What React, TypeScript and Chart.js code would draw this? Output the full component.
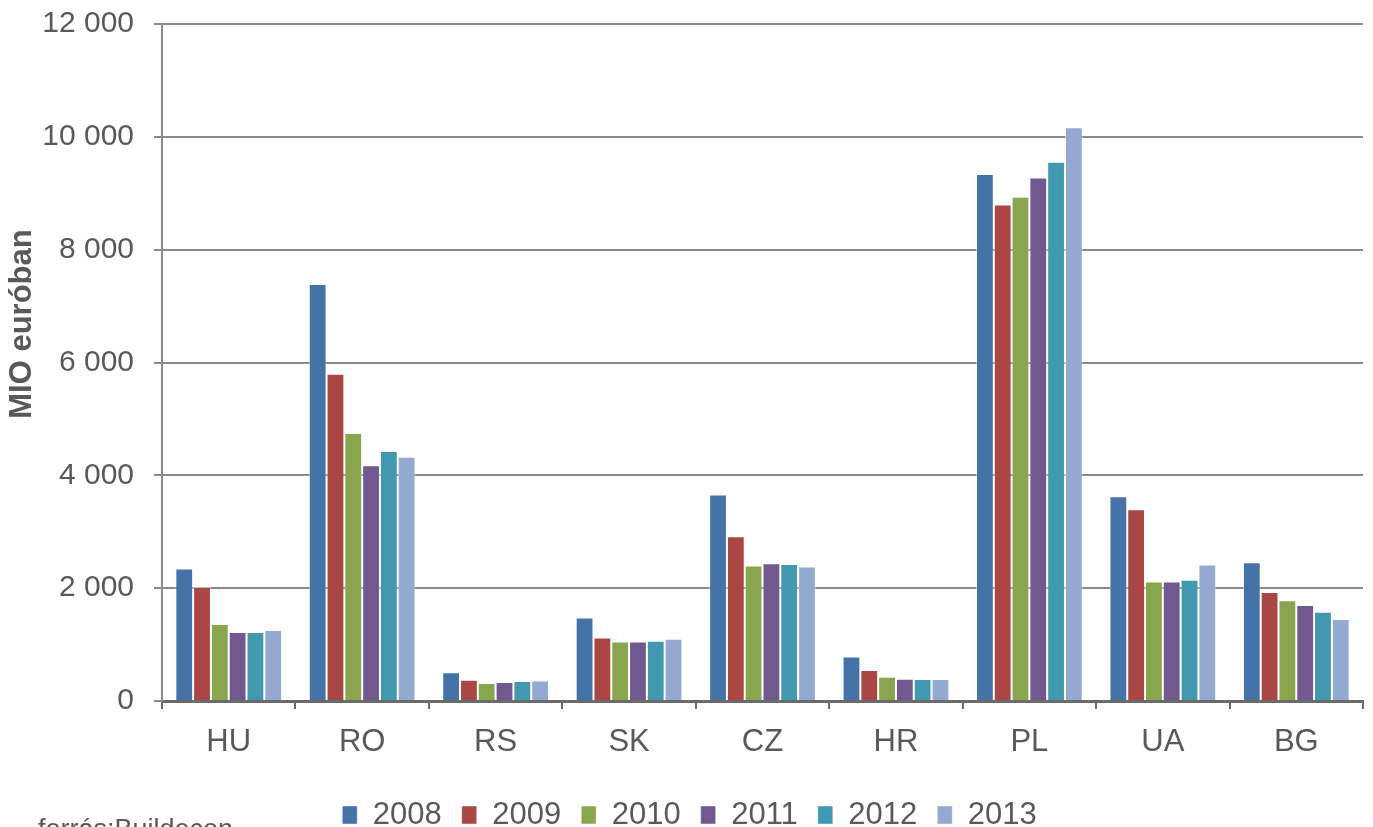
import React, { useEffect, useRef } from "react";
import { Chart, registerables } from "chart.js";

Chart.register(...registerables);

const categories = ["HU", "RO", "RS", "SK", "CZ", "HR", "PL", "UA", "BG"];
const years = ["2008", "2009", "2010", "2011", "2012", "2013"];
const values2008 = [2350, 7390, 510, 1480, 3660, 790, 9340, 3630, 2460];
const values2009 = [2020, 5800, 375, 1125, 2920, 550, 8800, 3400, 1930];
const values2010 = [1365, 4750, 320, 1055, 2400, 430, 8940, 2120, 1785];
const values2011 = [1225, 4180, 335, 1055, 2440, 395, 9280, 2120, 1700];
const values2012 = [1225, 4430, 355, 1070, 2430, 390, 9560, 2150, 1580];
const values2013 = [1260, 4330, 365, 1105, 2385, 390, 10170, 2420, 1455];
const seriesValues = [values2008, values2009, values2010, values2011, values2012, values2013];
const seriesColors = ["#4572A7", "#AA4643", "#89A54E", "#71588F", "#4198AF", "#93A9CF"];
const yTicks = [0, 2000, 4000, 6000, 8000, 10000, 12000];
const yTitle = "MIO euróban";
const sourceText = "forrás:Buildecon";

const FONT = "'Liberation Sans', Arial, sans-serif";
const TEXT = "#595959";
const LEGEND_FONT = 31;
const LEGEND_PAD = 20;

const fmt = (v: number) => {
  const s = String(Math.round(v));
  return s.replace(/\B(?=(\d{3})+(?!\d))/g, " ");
};

const overlayPlugin = {
  id: "overlayText",
  afterLayout(chart: any) {
    const lg = chart.legend;
    if (lg) {
      const h = lg.height;
      lg.top = 815 - LEGEND_PAD - LEGEND_FONT / 2;
      lg.bottom = lg.top + h;
      lg.left += 8;
      lg.right += 8;
    }
  },
  afterDraw(chart: any) {
    const ctx = chart.ctx;
    ctx.save();
    ctx.fillStyle = TEXT;
    ctx.font = `bold 31px ${FONT}`;
    ctx.translate(22, 324);
    ctx.rotate(-Math.PI / 2);
    ctx.textAlign = "center";
    ctx.textBaseline = "middle";
    ctx.fillText(yTitle, 0, 0);
    ctx.restore();

    ctx.save();
    ctx.fillStyle = TEXT;
    ctx.font = `27px ${FONT}`;
    ctx.textAlign = "left";
    ctx.textBaseline = "alphabetic";
    ctx.fillText(sourceText, 38, 838);
    ctx.restore();
  },
};

export default function App() {
  const ref = useRef<HTMLCanvasElement | null>(null);
  useEffect(() => {
    document.body.style.margin = "0";
    const canvas = ref.current!;
    const chart = new Chart(canvas, {
      type: "bar",
      data: {
        labels: categories,
        datasets: years.map((y, i) => ({
          label: y,
          data: seriesValues[i],
          backgroundColor: seriesColors[i],
          borderColor: "rgba(255,255,255,0.45)",
          borderWidth: 1,
          categoryPercentage: 0.8,
          barPercentage: 1.0,
        })),
      },
      options: {
        responsive: false,
        animation: false,
        layout: { padding: { top: 24, right: 10, left: 0, bottom: 0 } },
        plugins: {
          legend: {
            position: "bottom",
            labels: {
              boxWidth: 15,
              boxHeight: 18,
              padding: LEGEND_PAD,
              color: TEXT,
              font: { family: FONT, size: LEGEND_FONT },
            },
          },
          tooltip: { enabled: false },
          title: { display: false },
        },
        scales: {
          x: {
            grid: {
              display: true,
              drawOnChartArea: false,
              drawTicks: true,
              tickLength: 8,
              offset: true,
              color: "#6b6b6b",
              lineWidth: 2,
            },
            border: { display: true, color: "#6b6b6b", width: 3 },
            ticks: { color: TEXT, font: { family: FONT, size: 31 }, padding: 15 },
            afterFit: (s: any) => {
              s.height = 65;
            },
          },
          y: {
            min: 0,
            max: 12000,
            afterBuildTicks: (s: any) => {
              s.ticks = yTicks.map((v) => ({ value: v }));
            },
            grid: {
              color: "#8a8a8a",
              lineWidth: 2,
              tickLength: 8,
              drawTicks: true,
            },
            border: { display: true, color: "#8a8a8a", width: 2 },
            ticks: {
              color: TEXT,
              font: { family: FONT, size: 30 },
              padding: 20,
              callback: (v: any) => fmt(Number(v)),
            },
            afterFit: (s: any) => {
              s.width = 162;
              s.paddingTop = 0;
              s.paddingBottom = 0;
            },
          },
        },
      },
      plugins: [overlayPlugin],
    });
    return () => chart.destroy();
  }, []);
  return (
    <div style={{ width: 1373, height: 827, background: "#fff" }}>
      <canvas ref={ref} width={1373} height={827} style={{ display: "block" }} />
    </div>
  );
}
